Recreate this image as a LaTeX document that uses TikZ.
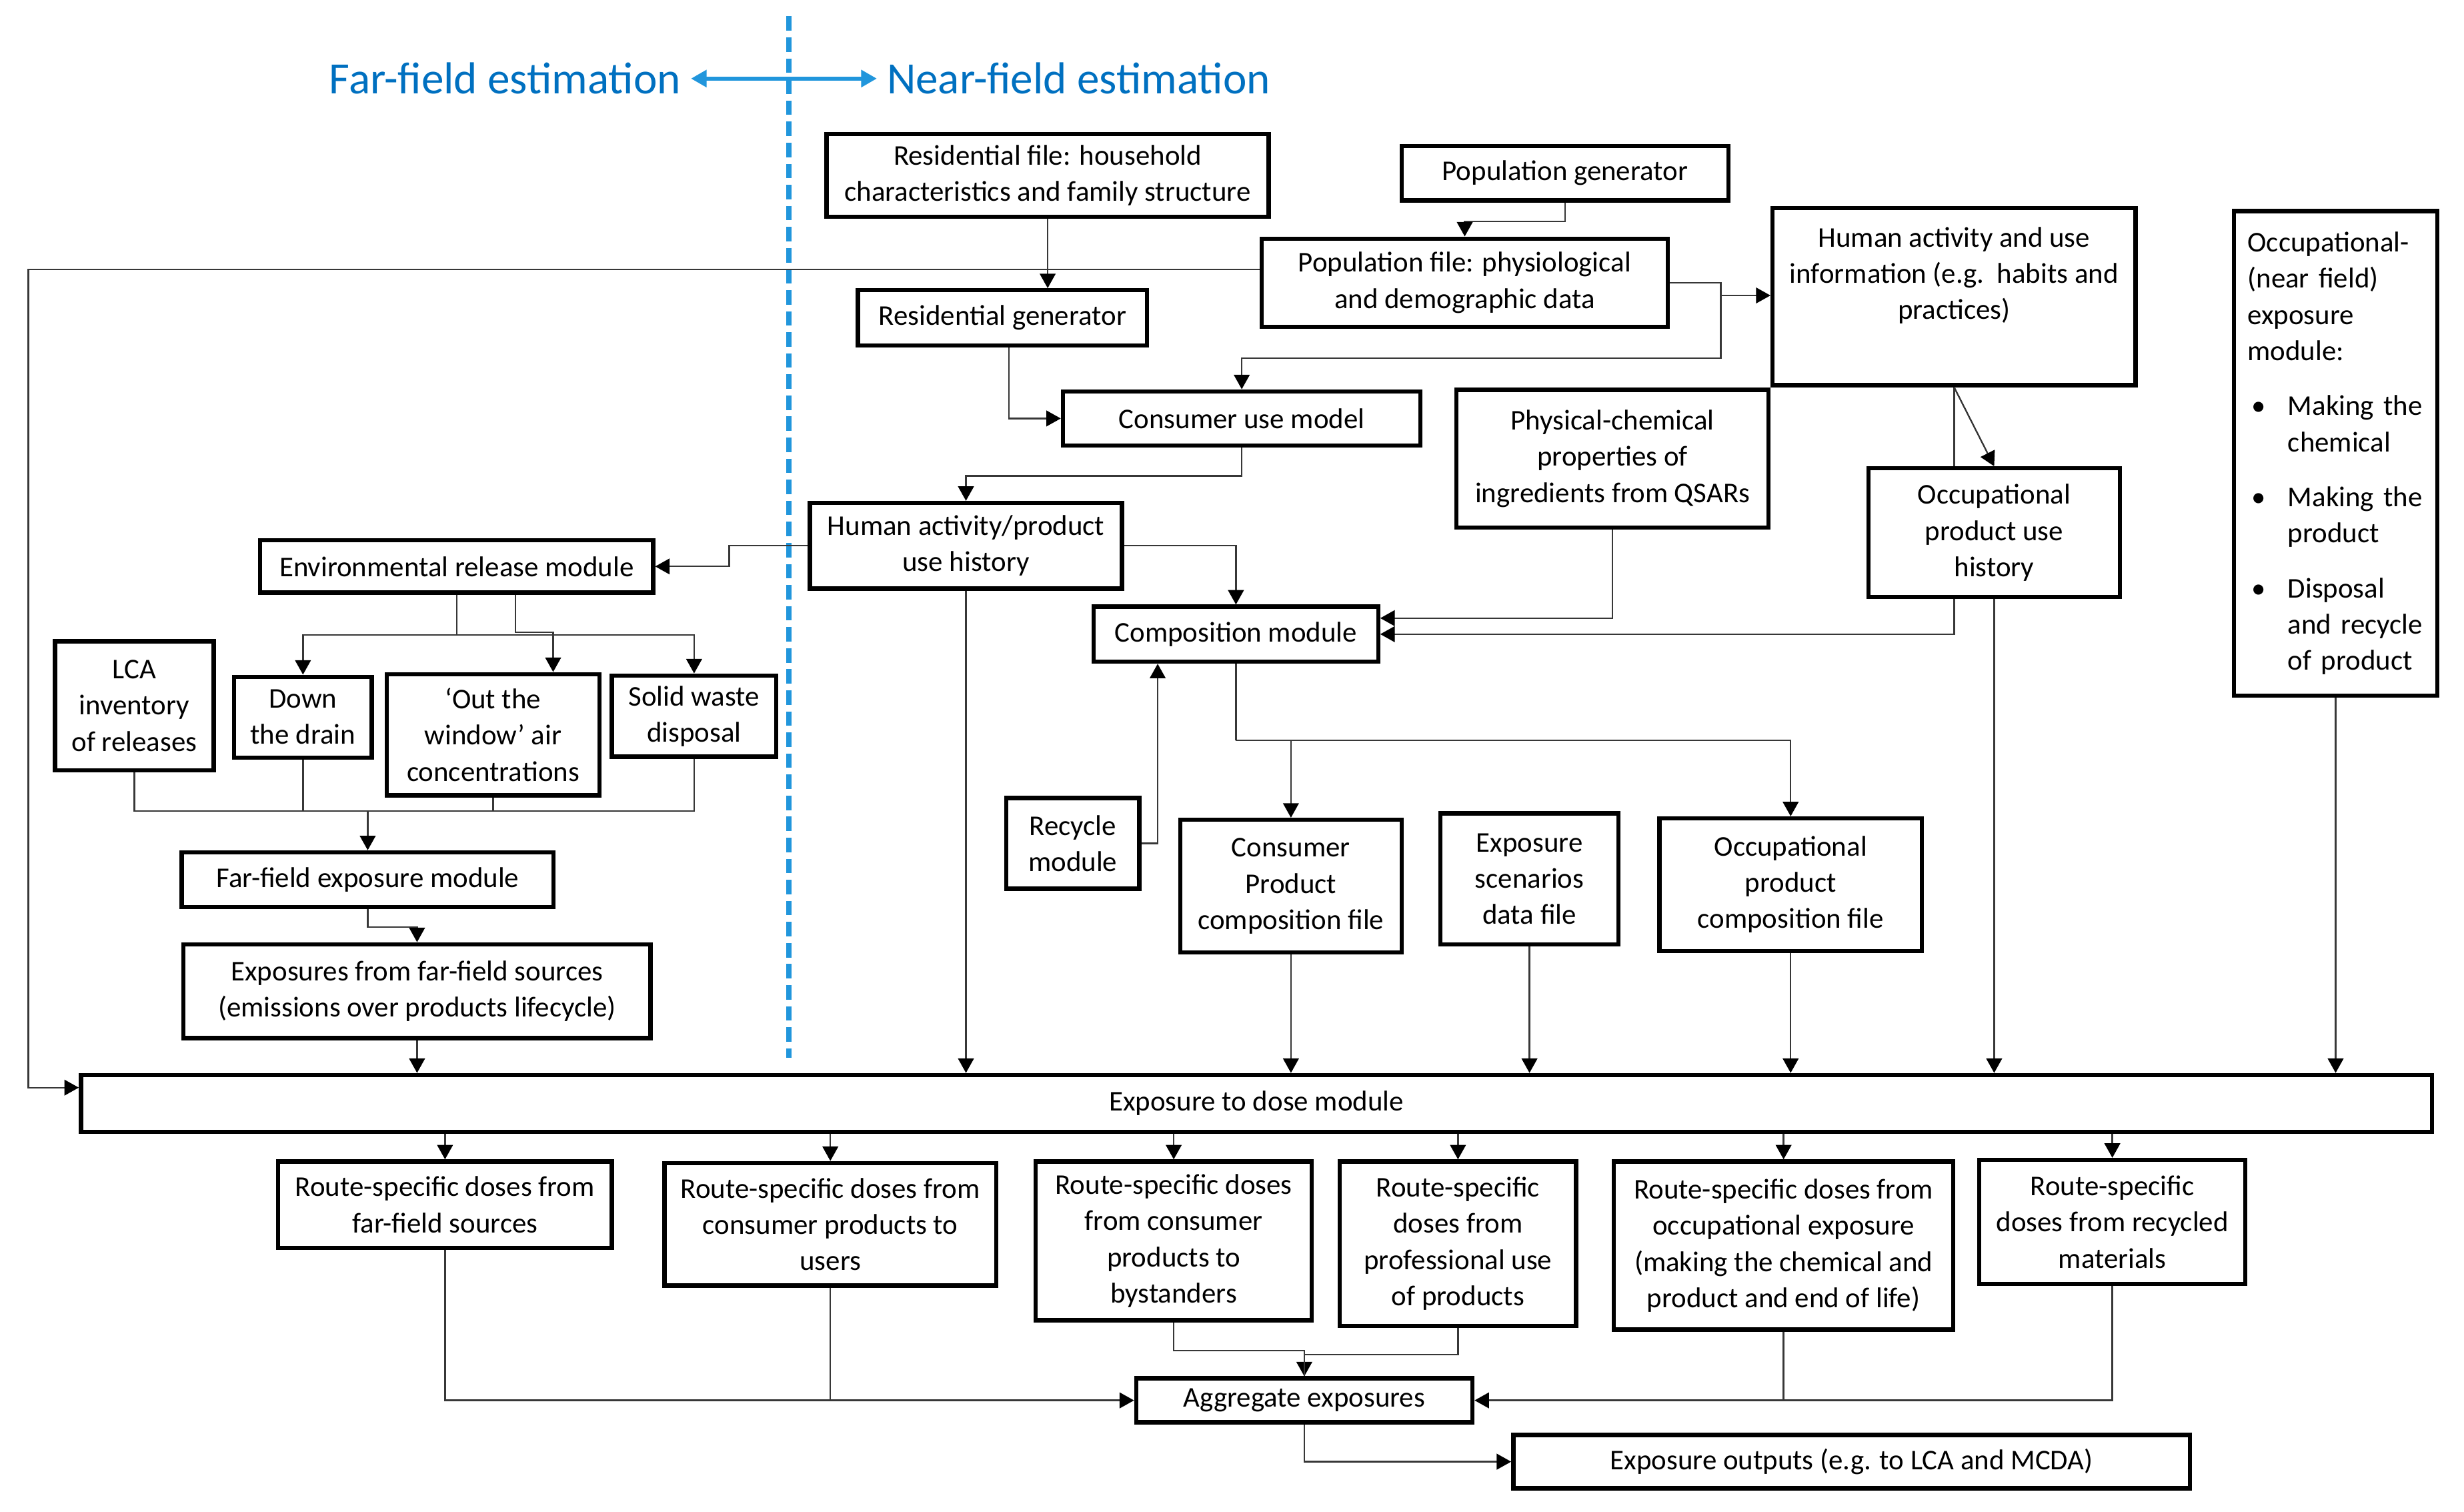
\documentclass[tikz,border=0pt]{standalone}
\usepackage{fontspec}
\setmainfont{Carlito}
\usetikzlibrary{arrows.meta}
\definecolor{ttlblue}{RGB}{0,112,192}
\definecolor{lnblue}{RGB}{33,150,220}
\definecolor{conncol}{RGB}{55,55,55}
\newcommand{\bx}[6]{\node[box,#1,minimum width={(#5-#3)*0.5pt},minimum height={(#6-#4)*0.5pt}] (#2) at ({(#3+#5)/2},{(#4+#6)/2})}
\newcommand{\occbul}{\makebox[12.8pt][l]{\hspace{1.2pt}\textbullet}}
\newcommand{\occind}{\hspace*{12.8pt}}
\tikzset{
  box/.style={draw=black,line width=1.35pt,fill=white,align=center,inner sep=1pt,font=\fontsize{9.1pt}{11.5pt}\selectfont},
  conn/.style={draw=conncol,line width=0.5pt,-{Triangle[length=4.6pt,width=5pt,color=black]}},
  plain/.style={draw=conncol,line width=0.5pt},
  ttl/.style={text=ttlblue,font=\fontsize{14.25pt}{17pt}\selectfont,inner sep=3pt},
  bluearrow/.style={draw=lnblue,line width=1.4pt,{Triangle[length=5pt,width=5.3pt]}-{Triangle[length=5pt,width=5.3pt]}},
  bluedash/.style={draw=lnblue,line width=1.5pt,dash pattern=on 4.6pt off 2.1pt},
}
\begin{document}
\begin{tikzpicture}[x=0.5pt,y=-0.5pt]
\useasboundingbox (0,0) rectangle (1568,962);

% titles
\node[ttl,anchor=east] (ff) at (439.7,50) {Far-field estimation};
\node[ttl,anchor=west] (nf) at (558,50) {Near-field estimation};
\coordinate (dtop) at (502,10.4);
\coordinate (dbot) at (502,673);
\draw[bluedash] (dtop) -- (dbot);
\draw[bluearrow] (ff.east) -- (nf.west);

% boxes
\bx{}{resfile}{526}{85.2}{807.4}{138}{Residential file: household\\characteristics and family structure};
\bx{}{popgen}{892}{93}{1099.8}{127.5}{Population generator};
\bx{}{popfile}{802.8}{151.8}{1061.4}{207.9}{Population file: physiological\\and demographic data};
\bx{}{hai}{1128}{132.4}{1359}{245}{Human activity and use\\information (e.g.\ \ habits and\\practices)\\[3.4pt]\mbox{}};
\bx{text width=56pt,align=left,inner xsep=4pt}{occ}{1421.6}{134.3}{1551}{442.6}{Occupational-\\(near field)\\exposure\\module:\\[6pt]
\occbul Making the\\\occind chemical\\[6pt]
\occbul Making the\\\occind product\\[6pt]
\occbul Disposal\\\occind and recycle\\\occind of product};
\bx{}{resgen}{546}{184.7}{730}{219.8}{Residential generator};
\bx{}{cum}{676.4}{249}{904}{283.5}{Consumer use model};
\bx{}{phys}{926.8}{248}{1125.5}{335.7}{Physical-chemical\\properties of\\ingredients from QSARs};
\bx{}{ouh}{1189}{298}{1349}{379.8}{Occupational\\product use\\history};
\bx{}{hap}{515.4}{320}{714}{374.5}{Human activity/product\\use history};
\bx{}{env}{165.6}{343.8}{415.6}{377}{Environmental release module};
\bx{}{comp}{696}{386}{877}{421}{Composition module};
\bx{}{lca}{35}{408}{136}{490}{LCA\\inventory\\of releases};
\bx{}{drain}{149}{430.6}{236.6}{482}{Down\\the drain};
\bx{}{window}{246}{428.9}{381.6}{506}{‘Out the\\window’ air\\concentrations};
\bx{}{solid}{389.4}{429.8}{494}{481.5}{Solid waste\\disposal};
\bx{}{rec}{640.4}{507.8}{725}{565.5}{Recycle\\module};
\bx{}{cpc}{751}{521.6}{892}{606}{Consumer\\Product\\composition file};
\bx{}{esd}{916.6}{517.5}{1030}{600.8}{Exposure\\scenarios\\data file};
\bx{}{opc}{1056}{520.7}{1223}{605}{Occupational\\product\\composition file};
\bx{}{ffe}{115.7}{542.3}{352.3}{577}{Far-field exposure module};
\bx{}{expff}{116.8}{600.8}{414}{660.5}{Exposures from far-field sources\\(emissions over products lifecycle)};
\bx{}{dose}{51.5}{684}{1547.6}{720}{Exposure to dose module};
\bx{}{rsff}{177}{739}{389.4}{794}{Route-specific doses from\\far-field sources};
\bx{}{rscu}{422.8}{740}{634}{818}{Route-specific doses from\\consumer products to\\users};
\bx{}{rsby}{659}{739}{834.8}{840}{Route-specific doses\\from consumer\\products to\\bystanders};
\bx{}{rspro}{852.6}{739}{1003}{843.6}{Route-specific\\doses from\\professional use\\of products};
\bx{}{rsocc}{1027}{739}{1243}{846}{Route-specific doses from\\occupational exposure\\(making the chemical and\\product and end of life)};
\bx{}{rsrec}{1259.6}{738}{1428.8}{817}{Route-specific\\doses from recycled\\materials};
\bx{}{agg}{723}{877}{937}{905}{Aggregate exposures};
\bx{}{out}{963}{913}{1393.6}{947}{Exposure outputs (e.g. to LCA and MCDA)};

% upper connectors
\draw[conn] (resfile.south) -- (resfile.south |- resgen.north);
\draw[conn] (popgen.south) -- ++(0,12) -| (popfile.north);
\coordinate (pb) at (1095,228);
\coordinate (pj) at (1095,188);
\draw[conn] (popfile.east) -| (pb) -| (cum.north);
\draw[conn] (pj) -- (pj -| hai.west);
\coordinate (lb) at (18,692);
\draw[conn] ([yshift=4.2pt]popfile.west) -| (lb) -- (lb -| dose.west);
\draw[conn] ([xshift=2pt]resgen.south) |- (cum.west);
\draw[conn] (cum.south) -- ++(0,18) -| (hap.north);
\draw[conn] (hap.west) -- ++(-50,0) |- (env.east);
\draw[conn] (hap.east) -| (comp.north);
\draw[conn] (hap.south) -- (hap.south |- dose.north);
\draw[conn] (phys.south) |- ([yshift=5.1pt]comp.east);
\draw[plain] (hai.south) -- (hai.south |- ouh.north);
\draw[conn] (hai.south) -- (ouh.north);
\draw[conn] (hai.south |- ouh.south) |- (comp.east);
\draw[conn] (ouh.south) -- (ouh.south |- dose.north);
\draw[conn] (occ.south) -- (occ.south |- dose.north);

% composition branch
\coordinate (c1) at (786.5,471);
\draw[plain] (comp.south) -- (c1);
\draw[conn] (c1) -| (cpc.north);
\draw[conn] (c1) -| (opc.north);
\draw[conn] (rec.east) -| ([xshift=-24.9pt]comp.south);
\draw[conn] (cpc.south) -- (cpc.south |- dose.north);
\draw[conn] (esd.south) -- (esd.south |- dose.north);
\draw[conn] (opc.south) -- (opc.south |- dose.north);

% far-field branch
\coordinate (e1) at (290.6,404);
\draw[plain] (env.south) -- (e1);
\draw[conn] (e1) -| (drain.north);
\draw[conn] (e1) -| (solid.north);
\draw[conn] ([xshift=18.7pt]env.south) -- ++(0,24) -| ([xshift=19.1pt]window.north);
\coordinate (m1) at (234,516);
\draw[plain] (lca.south) |- (m1);
\draw[plain] (solid.south) |- (m1);
\draw[plain] (drain.south) -- (drain.south |- m1);
\draw[plain] (window.south) -- (window.south |- m1);
\draw[conn] (m1) -- (ffe.north);
\draw[conn] (ffe.south) -- ++(0,11.6) -| (expff.north);
\draw[conn] (expff.south) -- (expff.south |- dose.north);

% dose outputs
\foreach \n in {rsff,rscu,rsby,rspro,rsocc,rsrec}
  \draw[conn] (dose.south -| \n.north) -- (\n.north);

% aggregation
\draw[conn] (rsff.south) |- (agg.west);
\draw[plain] (rscu.south) -- (rscu.south |- agg.west);
\draw[conn] (rsrec.south) |- (agg.east);
\draw[plain] (rsocc.south) -- (rsocc.south |- agg.east);
\draw[conn] (rsby.south) -- ++(0,18) -| (agg.north);
\draw[plain] (rspro.south) -- ++(0,17) -| (agg.north);
\draw[conn] (agg.south) |- (out.west);
\end{tikzpicture}
\end{document}
